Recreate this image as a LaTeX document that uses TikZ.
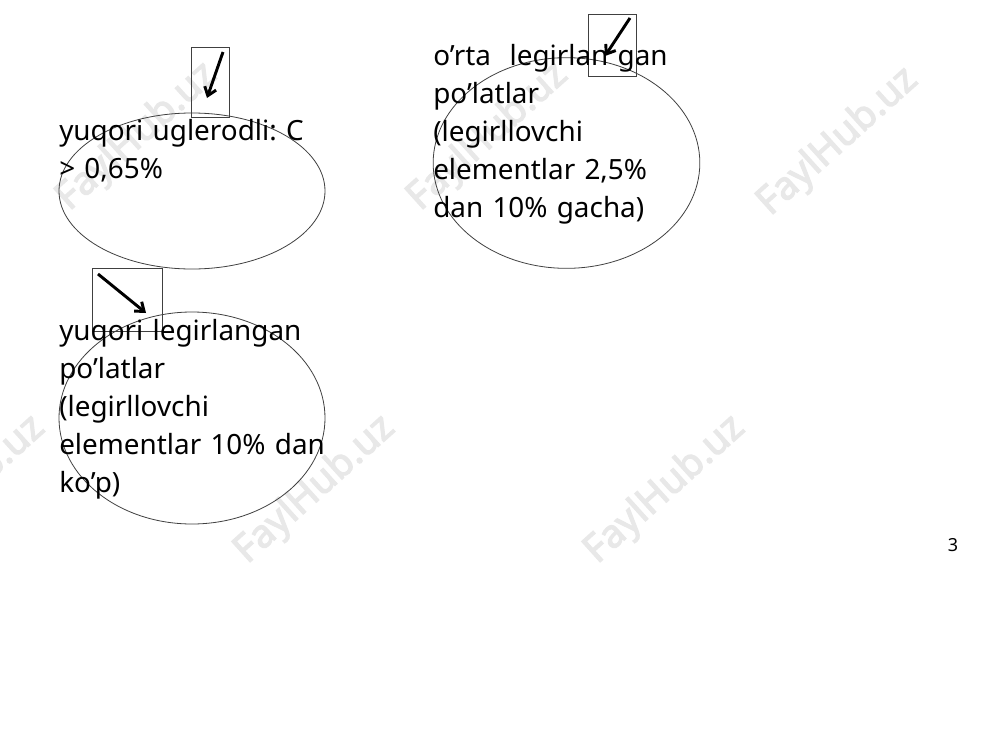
\documentclass[tikz,border=0pt]{standalone}
\usepackage{fontspec}
\setmainfont{Noto Sans}
\newfontfamily\wmfont{Noto Sans}[AutoFakeBold=3]
\usetikzlibrary{shapes.geometric,arrows.meta}
\frenchspacing
\begin{document}
\begin{tikzpicture}[x=0.75pt,y=-0.75pt,
  oval/.style={draw=black!75,line width=0.6pt,ellipse,inner sep=0pt},
  iconbox/.style={draw=black!75,line width=0.6pt,rectangle,inner sep=0pt},
  bigarrow/.style={line width=2.2pt,-{Straight Barb[length=6pt,width=9pt]}},
  label/.style={anchor=base west,inner sep=0pt,align=left,text width=300pt,
    font=\frenchspacing\fontsize{20.9pt}{28.5pt}\selectfont},
  wmark/.style={text=black!9,font=\wmfont\bfseries\fontsize{29pt}{29pt}\selectfont,rotate=42,inner sep=0pt}]
\useasboundingbox (0,0) rectangle (1000,750);
\fill[white] (0,0) rectangle (1000,750);
% watermarks
\node[wmark] (w1) at (137,137) {FaylHub.uz};
\node[wmark] (w2) at (488,137) {FaylHub.uz};
\node[wmark] (w3) at (838,142) {FaylHub.uz};
\node[wmark] (w4) at (-35,490) {FaylHub.uz};
\node[wmark] (w5) at (315,490) {FaylHub.uz};
\node[wmark] (w6) at (665,490) {FaylHub.uz};
% ellipses
\node[oval,minimum width=199.5pt,minimum height=117pt] (e1) at (192,191) {};
\node[oval,minimum width=200pt,minimum height=158pt] (e2) at (566.5,163) {};
\node[oval,minimum width=199.5pt,minimum height=159pt] (e3) at (192,418) {};
% icon boxes
\node[iconbox,minimum width=28.5pt,minimum height=52pt] (b1) at (210,82.5) {};
\node[iconbox,minimum width=36pt,minimum height=46pt] (b2) at (612,45.5) {};
\node[iconbox,minimum width=52.5pt,minimum height=47pt] (b3) at (127,300) {};
\coordinate (a1s) at (223,52); \coordinate (a1e) at (207,98);
\coordinate (a2s) at (630,18); \coordinate (a2e) at (605,56);
\coordinate (a3s) at (98,274); \coordinate (a3e) at (146,313);
\draw[bigarrow] (a1s) -- (a1e);
\draw[bigarrow] (a2s) -- (a2e);
\draw[bigarrow] (a3s) -- (a3e);
% texts
\node[label] (t1) at (59,140) {yuqori uglerodli: C\\> 0,65\%};
\node[label] (t2) at (433,65) {o’rta\ \ legirlan gan\\po’latlar\\(legirllovchi\\elementlar 2,5\%\\dan 10\% gacha)};
\node[label] (t3) at (59,340) {yuqori legirlangan\\po’latlar\\(legirllovchi\\elementlar 10\% dan\\ko’p)};
\node[anchor=base,inner sep=0pt,font=\fontsize{13.5pt}{16pt}\selectfont] (pg) at (953,551) {3};
\end{tikzpicture}
\end{document}
